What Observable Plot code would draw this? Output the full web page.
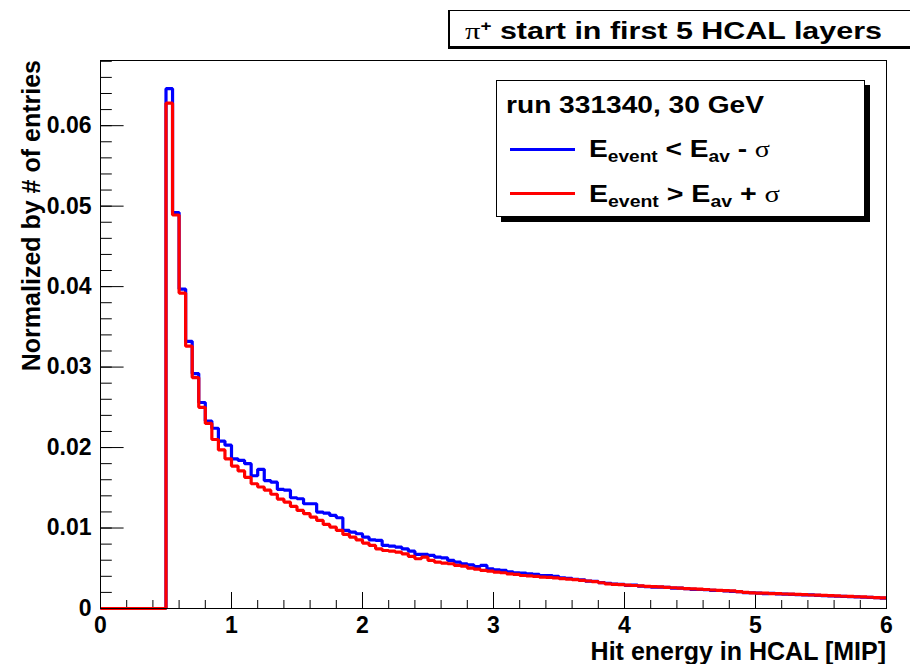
<!DOCTYPE html>
<html><head><meta charset="utf-8">
<script src="https://cdn.jsdelivr.net/npm/d3@7"></script>
<script src="https://cdn.jsdelivr.net/npm/@observablehq/plot@0.6"></script>
<style>
body{margin:0;background:#fff;}
#wrap{position:relative;width:910px;height:664px;overflow:hidden;font-family:"Liberation Sans",Arial,Helvetica,sans-serif;font-weight:bold;color:#000;background:#fff;}
.abs{position:absolute;white-space:nowrap;line-height:1;}
.stretch{display:inline-block;transform-origin:0 0;white-space:nowrap;}
.sym{font-family:"Liberation Serif","DejaVu Serif",serif;font-weight:normal;}
.sub{font-size:0.68em;position:relative;top:0.32em;}
.sup{font-size:0.62em;position:relative;top:-0.5em;}
</style></head><body><div id="wrap"></div>
<script>
// ---- data ----
const binCount = 120;            // 0 .. 6 in bins of 0.05
const xMax = 6;
const blueValues = [
  0,0,0,0,0,0,0,0,0,0,
  0.0646,0.0492,0.0397,0.0332,0.0292,0.0256,0.0233,0.0224,0.0208,0.0203,
  0.0186,0.0184,0.0180,0.0165,0.0173,0.0159,0.0157,0.0148,0.0147,0.01376,
  0.01364,0.01302,0.01302,0.01198,0.01186,0.01157,0.01128,0.0097,0.00949,0.00929,
  0.00887,0.00854,0.00846,0.00784,0.00775,0.00763,0.00742,0.00713,0.00672,0.00672,
  0.00659,0.00638,0.0063,0.00597,0.00576,0.00556,0.00543,0.00522,0.00535,0.00494,
  0.00481,0.00473,0.00456,0.00444,0.00439,0.00431,0.00423,0.0041,0.0041,0.00398,
  0.00380,0.00376,0.00362,0.00356,0.00340,0.00336,0.00322,0.00314,0.00302,0.00300,
  0.00288,0.00292,0.00278,0.00272,0.00264,0.00266,0.00262,0.00254,0.00252,0.00246,
  0.00238,0.00236,0.00234,0.00226,0.00224,0.00218,0.00212,0.00210,0.00198,0.00196,
  0.00190,0.00186,0.00188,0.00182,0.00178,0.00176,0.00172,0.00170,0.00170,0.00162,
  0.00160,0.00158,0.00152,0.00150,0.00148,0.00144,0.00140,0.00138,0.00134,0.00130
];
const redValues = [
  0,0,0,0,0,0,0,0,0,0,
  0.0628,0.0489,0.0392,0.0326,0.0287,0.0250,0.0230,0.0210,0.0197,0.0186,
  0.0177,0.0171,0.0163,0.0155,0.0151,0.0147,0.0142,0.0136,0.01322,0.01269,
  0.01219,0.01178,0.01136,0.01095,0.01045,0.01012,0.0097,0.0092,0.00887,0.00854,
  0.00813,0.00784,0.00742,0.00721,0.00713,0.0070,0.0068,0.00647,0.00618,0.00638,
  0.00597,0.00576,0.00564,0.00556,0.00535,0.00526,0.00502,0.00489,0.00473,0.00464,
  0.00452,0.00444,0.00431,0.00423,0.0041,0.00406,0.00398,0.0039,0.00386,0.00380,
  0.00372,0.00366,0.00358,0.00350,0.00342,0.00334,0.00320,0.00305,0.00300,0.00296,
  0.00290,0.00286,0.00280,0.00276,0.00272,0.00268,0.00262,0.00258,0.00252,0.00248,
  0.00244,0.00240,0.00236,0.00230,0.00226,0.00222,0.00218,0.00210,0.00200,0.00195,
  0.00192,0.00190,0.00186,0.00184,0.00180,0.00178,0.00176,0.00172,0.00168,0.00166,
  0.00162,0.00160,0.00156,0.00152,0.00150,0.00146,0.00144,0.00140,0.00136,0.00133
];
const xMajorTicks = [0,1,2,3,4,5,6];
const xTickLabels = ["0","1","2","3","4","5","6"];
const yMajorTicks = [0,0.01,0.02,0.03,0.04,0.05,0.06];
const yTickLabels = ["0","0.01","0.02","0.03","0.04","0.05","0.06"];
const yMax = 0.0681;

// ---- build step points (bin low edges + closing edge) ----
function steps(values){
  const pts = values.map((v,i)=>({x: i*xMax/binCount, y: v}));
  pts.push({x: xMax, y: values[values.length-1]});
  return pts;
}
const bluePts = steps(blueValues);
const redPts = steps(redValues);
const xMinorTicks = d3.range(0, 31).map(i => i/5);
const yMinorTicks = d3.range(0, 35).map(i => i*0.002);

const font = '"Liberation Sans", Arial, Helvetica, sans-serif';
const chart = Plot.plot({
  width: 910, height: 664,
  marginLeft: 100, marginRight: 24, marginTop: 60, marginBottom: 56,
  x: {domain: [0, xMax]},
  y: {domain: [0, yMax]},
  style: {fontFamily: font, fontSize: "23px", fontWeight: "bold", color: "#000", background: "transparent", overflow: "visible"},
  marks: [
    Plot.axisX(xMajorTicks, {tickSize: -16, tickFormat: () => "", label: null, stroke: "#000"}),
    Plot.axisX(xMinorTicks, {tickSize: -8, tickFormat: () => "", label: null, stroke: "#000"}),
    Plot.axisX(xMajorTicks, {tickSize: 0, tickPadding: 8, label: null, fontSize: 23, fontWeight: "bold",
      tickFormat: (d) => xTickLabels[xMajorTicks.indexOf(d)]}),
    Plot.axisY(yMajorTicks, {tickSize: -23.6, tickFormat: () => "", label: null, stroke: "#000"}),
    Plot.axisY(yMinorTicks, {tickSize: -11.8, tickFormat: () => "", label: null, stroke: "#000"}),
    Plot.axisY(yMajorTicks, {tickSize: 0, tickPadding: 9, label: null, fontSize: 23, fontWeight: "bold",
      tickFormat: (d) => yTickLabels[yMajorTicks.indexOf(d)]}),
    Plot.line(bluePts, {x: "x", y: "y", curve: "step-after", stroke: "#0000ff", strokeWidth: 3.2, strokeLinejoin: "miter", strokeLinecap: "butt"}),
    Plot.line(redPts, {x: "x", y: "y", curve: "step-after", stroke: "#ff0000", strokeWidth: 3.2, strokeLinejoin: "miter", strokeLinecap: "butt"}),
    Plot.frame({stroke: "#000", strokeWidth: 1})
  ]
});
const wrap = document.getElementById("wrap");
wrap.appendChild(chart);

function addHTML(html){ wrap.insertAdjacentHTML("beforeend", html); }

// title pave
addHTML('<div class="abs" style="left:448px;top:10px;width:520px;height:39px;box-sizing:border-box;border:1px solid #000;border-left-width:2px;border-bottom-width:3px;background:#fff"></div>');
addHTML('<div class="abs" style="left:465px;top:18.7px;font-size:24px"><span class="stretch" data-w="417"><span class="sym">π</span><span class="sup">+</span> start in first 5 HCAL layers</span></div>');

// legend
addHTML('<div class="abs" style="left:496px;top:80px;width:369px;height:137px;box-sizing:border-box;border:1px solid #000;box-shadow:5px 5px 0 #000;background:#fff"></div>');
addHTML('<div class="abs" style="left:506px;top:92.7px;font-size:24px"><span class="stretch" data-w="258">run 331340, 30 GeV</span></div>');
addHTML('<div class="abs" style="left:510px;top:147.5px;width:65px;height:3px;background:#0000ff"></div>');
addHTML('<div class="abs" style="left:589px;top:136.7px;font-size:24px"><span class="stretch" data-w="181">E<span class="sub">event</span> &lt; E<span class="sub">av</span> - <span class="sym">σ</span></span></div>');
addHTML('<div class="abs" style="left:510px;top:191.5px;width:65px;height:3px;background:#ff0000"></div>');
addHTML('<div class="abs" style="left:589px;top:181.7px;font-size:24px"><span class="stretch" data-w="191">E<span class="sub">event</span> &gt; E<span class="sub">av</span> + <span class="sym">σ</span></span></div>');

// axis titles
addHTML('<div class="abs" style="right:24px;top:641px;line-height:0.8;font-size:25px">Hit energy in HCAL [MIP]</div>');
addHTML('<div class="abs" style="left:0;top:0;font-size:25px;transform-origin:0 0;transform:translate(40px,60px) rotate(-90deg) translate(-100%,-0.8465em)">Normalized by # of entries</div>');

// stretch pave texts to the reference widths
document.querySelectorAll(".stretch").forEach(el => {
  const w = el.getBoundingClientRect().width;
  const target = +el.dataset.w;
  if (w > 0) el.style.transform = `scaleX(${target / w})`;
});
</script></body></html>
